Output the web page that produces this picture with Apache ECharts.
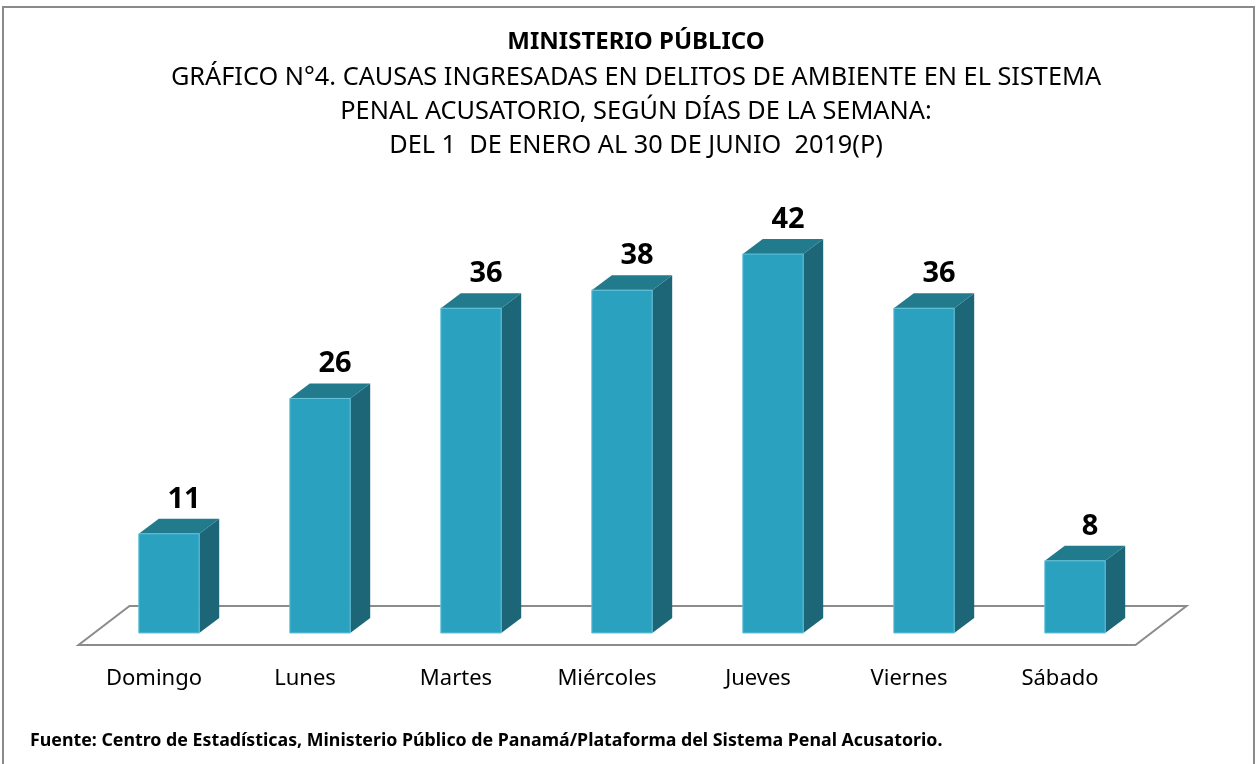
<!DOCTYPE html>
<html>
<head>
<meta charset="utf-8">
<script src="https://cdn.jsdelivr.net/npm/echarts@6/dist/echarts.min.js"></script>
<style>html,body{margin:0;padding:0;background:#fff;}#c{width:1258px;height:764px;}</style>
</head>
<body>
<div id="c"></div>
<script>
const categories = ['Domingo', 'Lunes', 'Martes', 'Miércoles', 'Jueves', 'Viernes', 'Sábado'];
const values = [11, 26, 36, 38, 42, 36, 8];
const titleText = 'MINISTERIO PÚBLICO';
const subtitleLines = [
  'GRÁFICO N°4. CAUSAS INGRESADAS EN DELITOS DE AMBIENTE EN EL SISTEMA',
  'PENAL ACUSATORIO, SEGÚN DÍAS DE LA SEMANA:',
  'DEL 1  DE ENERO AL 30 DE JUNIO  2019(P)'
];
const sourceText = 'Fuente: Centro de Estadísticas, Ministerio Público de Panamá/Plataforma del Sistema Penal Acusatorio.';

const FONT = "'Noto Sans', 'Open Sans', sans-serif";
const DX = 20, DY = -15;
const chart = echarts.init(document.getElementById('c'), null, {renderer: 'canvas'});

const titleGraphics = [
  {type: 'text', x: 636, y: 42, style: {text: titleText, fontFamily: FONT, fontSize: 24, fontWeight: 'bold', fill: '#000', textAlign: 'center', textVerticalAlign: 'middle'}}
].concat(subtitleLines.map((t, i) => ({
  type: 'text', x: 636, y: 78 + 34 * i,
  style: {text: t, fontFamily: FONT, fontSize: 25.3, fill: '#000', textAlign: 'center', textVerticalAlign: 'middle'}
})));

chart.setOption({
  animation: false,
  backgroundColor: '#fff',
  grid: {left: 93.5, right: 1258 - 1150.5, top: 227, bottom: 131, containLabel: false},
  xAxis: {
    type: 'category',
    data: categories,
    axisLine: {show: false},
    axisTick: {show: false},
    axisLabel: {fontFamily: FONT, fontSize: 22, color: '#000', margin: 35, padding: [0, 30, 0, 0]}
  },
  yAxis: {
    type: 'value', min: 0, max: 45,
    show: false,
    splitLine: {show: false}
  },
  graphic: [
    {type: 'rect', shape: {x: 3, y: 7, width: 1251, height: 800}, style: {fill: 'none', stroke: '#8a8a8a', lineWidth: 2}, z: 100},
    {type: 'text', x: 30, y: 741, style: {text: sourceText, fontFamily: FONT, fontSize: 17.8, fontWeight: 'bold', fill: '#000', textVerticalAlign: 'middle'}}
  ].concat(titleGraphics),
  series: [
    {
      type: 'custom',
      z: 1,
      data: [[0, 0]],
      renderItem(params, api) {
        const cs = params.coordSys;
        const base = api.coord([0, 0])[1];
        const fy = base + 12, fx0 = cs.x - 15, fx1 = cs.x + cs.width - 15;
        const bx = 51, by = -39;
        return {
          type: 'polygon',
          shape: {points: [[fx0, fy], [fx1, fy], [fx1 + bx, fy + by], [fx0 + bx, fy + by]]},
          style: {fill: '#fff', stroke: '#8c8c8c', lineWidth: 2}
        };
      }
    },
    {
      type: 'custom',
      z: 2,
      data: values.map((v, i) => [i, v]),
      renderItem(params, api) {
        const idx = api.value(0), val = api.value(1);
        const top = api.coord([idx, val]);
        const base = api.coord([idx, 0]);
        const band = api.size([1, 0])[0];
        const w = band * 0.4;
        const x0 = top[0] - w / 2, x1 = top[0] + w / 2;
        const yt = top[1], yb = base[1];
        return {
          type: 'group',
          children: [
            {type: 'polygon', shape: {points: [[x1, yt], [x1 + DX, yt + DY], [x1 + DX, yb + DY], [x1, yb]]},
             style: {fill: '#1d6678'}},
            {type: 'polygon', shape: {points: [[x0, yt], [x0 + DX, yt + DY], [x1 + DX, yt + DY], [x1, yt]]},
             style: {fill: '#227a8d'}},
            {type: 'rect', shape: {x: x0, y: yt, width: w, height: yb - yt},
             style: {fill: '#2ba1c0', stroke: '#63c3da', lineWidth: 1}},
            {type: 'text', style: {text: String(val), x: top[0] + 15, y: yt + DY - 5,
              textAlign: 'center', textVerticalAlign: 'bottom',
              fontFamily: FONT, fontSize: 29, fontWeight: 'bold', fill: '#000'}}
          ]
        };
      }
    }
  ]
});
</script>
</body>
</html>
